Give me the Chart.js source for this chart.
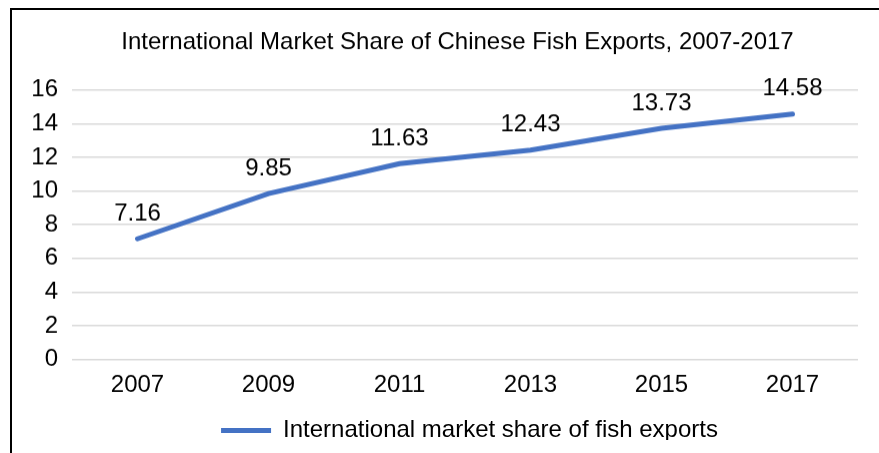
<!DOCTYPE html>
<html>
<head>
<meta charset="utf-8">
<script src="https://cdn.jsdelivr.net/npm/chart.js@4/dist/chart.umd.min.js"></script>
<style>
    html, body {
        margin: 0;
        padding: 0;
        background: #ffffff;
        overflow: hidden;
    }
    #frame {
        position: absolute;
        left: 10px;
        top: 8px;
        width: 900px;
        height: 480px;
        border: 2px solid #000000;
    }
    #wrap {
        position: absolute;
        left: 0;
        top: 0;
        width: 879px;
        height: 453px;
    }
</style>
</head>
<body>
<div id="frame"></div>
<div id="wrap"><canvas id="lineChart"></canvas></div>
<script>
"use strict";

const years = ['2007', '2009', '2011', '2013', '2015', '2017'];
const shareValues = [7.16, 9.85, 11.63, 12.43, 13.73, 14.58];
const yTicks = [0, 2, 4, 6, 8, 10, 12, 14, 16];

const fontFamily = "'Liberation Sans', Arial, sans-serif";

/* Skriver ut värdet ovanför varje punkt */
const valueLabels = {
    id: 'valueLabels',
    afterDatasetsDraw(chart) {
        const ctx = chart.ctx;
        const meta = chart.getDatasetMeta(0);
        ctx.save();
        ctx.font = '24px ' + fontFamily;
        ctx.fillStyle = '#000000';
        ctx.textAlign = 'center';
        ctx.textBaseline = 'middle';
        meta.data.forEach((point, i) => {
            ctx.fillText(shareValues[i].toFixed(2), point.x, point.y - 25);
        });
        ctx.restore();
    }
};

/* Flyttar titel och förklaring lite åt höger, som i förlagan */
const shiftBoxes = {
    id: 'shiftBoxes',
    afterLayout(chart) {
        if (chart.titleBlock) {
            chart.titleBlock.left += 16;
            chart.titleBlock.right += 16;
        }
        if (chart.legend) {
            chart.legend.left += 28;
            chart.legend.right += 28;
        }
    }
};

const ctx = document.getElementById('lineChart');

const shareChart = new Chart(ctx, {
    type: 'line',
    data: {
        labels: years,
        datasets: [{
            label: 'International market share of fish exports',
            data: shareValues,
            borderColor: '#4472C4',
            backgroundColor: '#4472C4',
            borderWidth: 5,
            borderCapStyle: 'round',
            pointRadius: 0,
            tension: 0
        }]
    },
    options: {
        responsive: false,
        animation: false,
        layout: {
            padding: { left: 25, right: 21, top: 0, bottom: -12 }
        },
        plugins: {
            title: {
                display: true,
                text: 'International Market Share of Chinese Fish Exports, 2007-2017',
                color: '#000000',
                font: { family: fontFamily, size: 24, weight: 'normal' },
                padding: { top: 28, bottom: 33 }
            },
            legend: {
                position: 'bottom',
                labels: {
                    color: '#000000',
                    font: { family: fontFamily, size: 24 },
                    usePointStyle: true,
                    pointStyle: 'line',
                    pointStyleWidth: 50,
                    padding: 10
                }
            },
            tooltip: { enabled: false }
        },
        scales: {
            x: {
                offset: true,
                grid: { display: false, drawTicks: false },
                border: { display: false },
                ticks: {
                    color: '#000000',
                    font: { family: fontFamily, size: 24 },
                    padding: 11
                },
                afterFit(scale) {
                    scale.height = 49;
                }
            },
            y: {
                min: 0,
                max: 16,
                afterBuildTicks(scale) {
                    scale.ticks = yTicks.map(v => ({ value: v }));
                },
                grid: {
                    color: '#d9d9d9',
                    lineWidth: 1.5,
                    drawTicks: false
                },
                border: { display: false },
                ticks: {
                    color: '#000000',
                    font: { family: fontFamily, size: 24 },
                    padding: 14
                },
                afterFit(scale) {
                    scale.width = 47;
                }
            }
        }
    },
    plugins: [valueLabels, shiftBoxes]
});

shareChart.resize(879, 453);
</script>
</body>
</html>
